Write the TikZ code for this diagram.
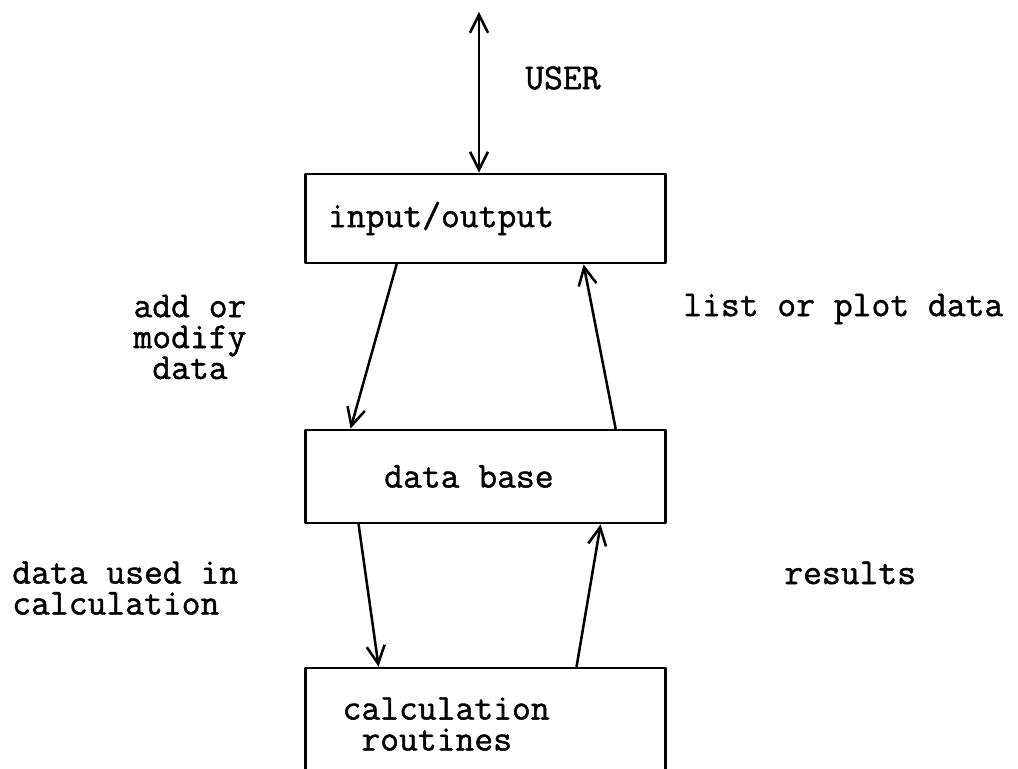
\documentclass[tikz,border=0pt]{standalone}
\usepackage{fontspec}
\newfontfamily\tyfont[FakeBold=1.2]{Latin Modern Mono}
\newcommand\labelfont{\tyfont\fontsize{26}{22}\selectfont}
\usetikzlibrary{arrows.meta,calc}

\begin{document}
\begin{tikzpicture}[x=1cm,y=1cm,line cap=round,line join=round,
    block/.style={draw,line width=2pt,minimum width=9cm,align=left,inner sep=0pt,font=\labelfont},
    lbl/.style={font=\labelfont,inner sep=0pt},
    barb/.tip={Straight Barb[length=4.5mm,width=4.5mm]},
    flow/.style={line width=1.8pt,-barb}]
    \useasboundingbox (0,0) rectangle (25.45,19.225);

    % Bloques del programa
    \node[block,minimum height=2.225cm,text width=7.875cm] (io) at (12.14,13.7625) {input/output};
    \node[block,minimum height=2.325cm,text width=5.07cm] (db) at (12.14,7.3125) {\spaceskip=0pt data base};
    \node[block,minimum height=2.8cm,text width=7.15cm] (routines) at (12.14,1.125) {\spaceskip=0pt calculation\\~routines};

    % Usuario
    \coordinate (usr) at (11.975,18.925);
    \draw[line width=1.8pt,barb-barb] (usr) -- (usr |- io.north);
    \node[lbl,anchor=west] (user) at (13.125,17.275) {USER};

    % Flujo entre input/output y data base
    \draw[flow] ($(io.south west)+(2.31,0)$) -- ($(db.north west)+(1.16,0)$);
    \draw[flow] ($(db.north west)+(7.785,0)$) -- ($(io.south west)+(6.985,0)$);
    \node[lbl,align=center] (addmod) at (4.75,10.8) {add or\\modify\\data};
    \node[lbl,anchor=west] (listplot) at (17.075,11.5) {list or plot data};

    % Flujo entre data base y rutinas de calculo
    \draw[flow] ($(db.south west)+(1.36,0)$) -- ($(routines.north west)+(1.86,0)$);
    \draw[flow] ($(routines.north west)+(6.81,0)$) -- ($(db.south west)+(7.41,0)$);
    \node[lbl,anchor=west,align=left] (usedin) at (0.3,4.525) {data used in\\calculation};
    \node[lbl,anchor=west] (res) at (19.6,4.9) {results};
\end{tikzpicture}
\end{document}
